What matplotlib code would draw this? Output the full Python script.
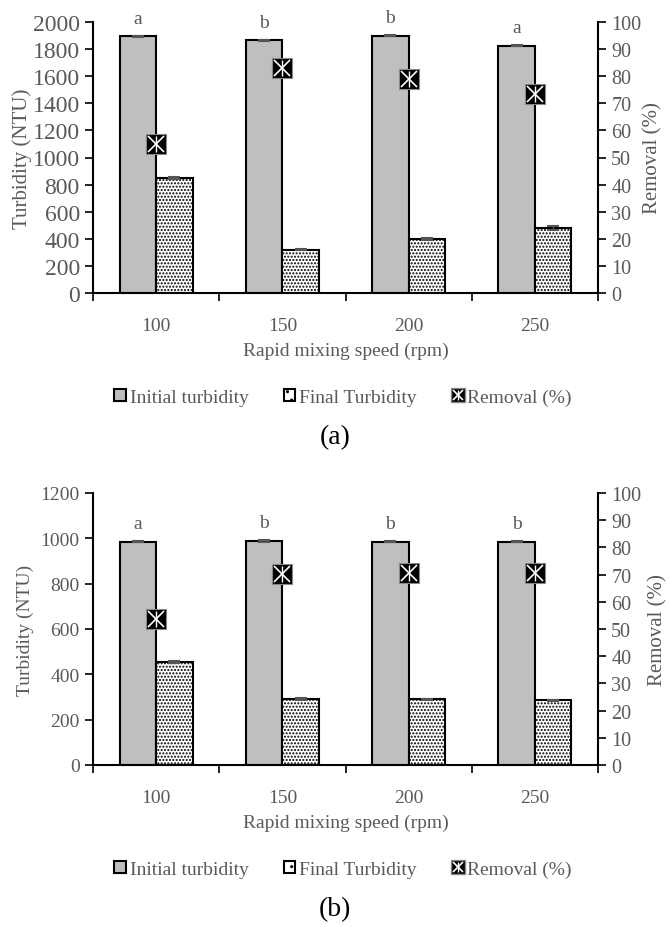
import numpy as np
import matplotlib.pyplot as plt
from matplotlib.patches import Patch
from matplotlib.lines import Line2D

plt.rcParams['font.family'] = ['Liberation Serif', 'DejaVu Serif']
plt.rcParams['hatch.linewidth'] = 1.0

speeds = ['100', '150', '200', '250']

# panel (a)
initial_a = [1895, 1865, 1900, 1825]
final_a = [850, 320, 400, 480]
initial_err_a = [5, 5, 5, 5]
final_err_a = [5, 5, 8, 12]
removal_a = [55.0, 83.0, 79.0, 73.5]
letters_a = ['a', 'b', 'b', 'a']

# panel (b)
initial_b = [985, 988, 985, 985]
final_b = [455, 290, 290, 285]
initial_err_b = [3, 3, 3, 3]
final_err_b = [3, 4, 3, 3]
removal_b = [53.7, 70.4, 70.5, 70.5]
letters_b = ['a', 'b', 'b', 'b']

TXT = '#595959'
GREY = '#bfbfbf'
W, H = 670, 928


def px_axes(fig, left, top, right, bottom):
    return fig.add_axes([left / W, 1 - bottom / H, (right - left) / W, (bottom - top) / H])


def removal_marker(ax, x, y, ms=14.5):
    ax.plot(x, y, 's', ms=ms, mfc='black', mec='#888888', mew=0.8, ls='none', zorder=5)
    ax.plot(x, y, 'x', ms=ms * 0.75, mec='white', mew=1.2, ls='none', zorder=6)
    ax.plot(x, y, '|', ms=ms * 0.75, mec='white', mew=1.0, ls='none', zorder=6)


def draw_panel(fig, top, bottom, initial, final, ierr, ferr, removal, letters,
               ymax, ystep, tsize, lsize, lx, rx):
    ax = px_axes(fig, 93, top, 598, bottom)
    x = np.arange(1, len(speeds) + 1)
    bw = 0.29
    ax.bar(x - bw / 2, initial, bw, color=GREY, edgecolor='black', linewidth=1.5,
           yerr=ierr, error_kw=dict(ecolor='#555555', capsize=4, elinewidth=1, capthick=1.5),
           zorder=2)
    ax.bar(x + bw / 2, final, bw, color='white', edgecolor='black', linewidth=1.5,
           hatch='.....', yerr=ferr,
           error_kw=dict(ecolor='#555555', capsize=4, elinewidth=1, capthick=1.5), zorder=2)
    for xi, yi, lab in zip(x, initial, letters):
        ax.annotate(lab, (xi - bw / 2, yi), xytext=(0, 7), textcoords='offset points',
                    ha='center', va='bottom', fontsize=14, color=TXT, annotation_clip=False)

    ax.set_xlim(0.5, len(speeds) + 0.5)
    ax.set_ylim(0, ymax)
    ax.set_yticks(np.arange(0, ymax + 1, ystep))
    ax.set_xticks(np.arange(0.5, len(speeds) + 1, 1))
    ax.set_xticklabels([])
    ax.set_xticks(x, minor=True)
    ax.set_xticklabels(speeds, minor=True)
    ax.tick_params(axis='x', which='major', length=6, width=1.2, color='black')
    ax.tick_params(axis='x', which='minor', length=0, pad=17, labelsize=14, labelcolor=TXT)
    ax.tick_params(axis='y', length=6, width=1.2, labelsize=tsize, labelcolor=TXT)
    ax.spines['top'].set_visible(False)
    ax.spines['right'].set_visible(False)
    for s in ['left', 'bottom']:
        ax.spines[s].set_linewidth(1.5)
    ax.set_ylabel('Turbidity (NTU)', fontsize=lsize, color=TXT, va='center')
    ax.yaxis.set_label_coords((lx - 93) / 505, 0.5)
    ax.set_xlabel('Rapid mixing speed (rpm)', fontsize=14, color=TXT, labelpad=6)

    ax2 = ax.twinx()
    ax2.set_ylim(0, 100)
    ax2.set_yticks(np.arange(0, 101, 10))
    ax2.tick_params(axis='y', length=6, width=1.2, labelsize=14.5, labelcolor=TXT)
    for s in ['top', 'left', 'bottom']:
        ax2.spines[s].set_visible(False)
    ax2.spines['right'].set_linewidth(1.5)
    ax2.set_ylabel('Removal (%)', fontsize=15, color=TXT, va='center')
    ax2.yaxis.set_label_coords((rx - 93) / 505, 0.5)
    removal_marker(ax2, x, removal)
    return ax


def add_legend(fig, ycenter):
    h1 = Patch(facecolor=GREY, edgecolor='black', linewidth=1.5)
    h2 = Patch(facecolor='white', edgecolor='black', linewidth=1.5, hatch='..')
    h3a = Line2D([], [], marker='s', ms=10, mfc='black', mec='#888888', ls='none')
    h3b = Line2D([], [], marker='x', ms=7, mec='white', mew=1.2, ls='none')
    h3c = Line2D([], [], marker='|', ms=7, mec='white', mew=1.0, ls='none')
    leg = fig.legend([h1, h2, (h3a, h3b, h3c)],
                     ['Initial turbidity', 'Final Turbidity', 'Removal (%)'],
                     loc='center', bbox_to_anchor=(343 / W, 1 - ycenter / H), ncol=3,
                     frameon=False, fontsize=14, handlelength=0.6, handleheight=0.6,
                     handletextpad=0.2, columnspacing=1.8)
    for t in leg.get_texts():
        t.set_color(TXT)


fig = plt.figure(figsize=(W / 100, H / 100), dpi=100)

draw_panel(fig, 23, 294, initial_a, final_a, initial_err_a, final_err_a,
           removal_a, letters_a, 2000, 200, 17, 15, 22, 653)
add_legend(fig, 398)
fig.text(335 / W, 1 - 438 / H, '(a)', ha='center', va='center', fontsize=20, color='black')

draw_panel(fig, 494, 766, initial_b, final_b, initial_err_b, final_err_b,
           removal_b, letters_b, 1200, 200, 14, 14, 25, 658)
add_legend(fig, 870)
fig.text(335 / W, 1 - 910 / H, '(b)', ha='center', va='center', fontsize=20, color='black')

fig.savefig('out.png', dpi=100)
